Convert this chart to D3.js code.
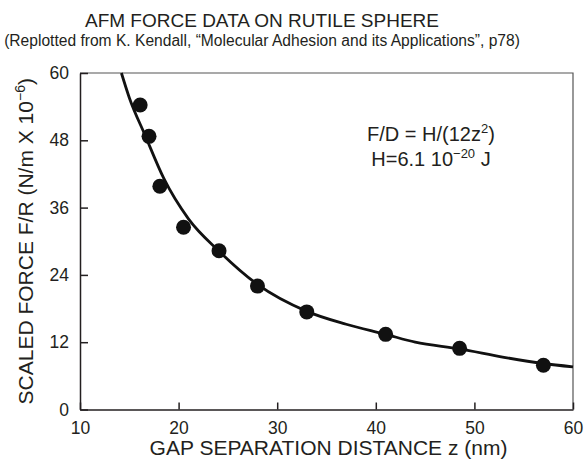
<!DOCTYPE html>
<html>
<head>
<meta charset="utf-8">
<script src="https://cdn.jsdelivr.net/npm/d3@7"></script>
<style>
  body { margin: 0; background: #fff; }
  text { font-family: "Liberation Sans", Arial, sans-serif; fill: #231f20; }
</style>
</head>
<body>
<svg id="chart"></svg>
<script>
// measured points (gap z in nm, F/R in 1e-6 N/m)
const gapPoints = [16.1, 17.0, 18.1, 20.5, 24.1, 28.0, 33.0, 41.0, 48.5, 57.0];
const forcePoints = [54.3, 48.7, 39.8, 32.5, 28.3, 22.0, 17.4, 13.4, 10.9, 7.9];

// fitted curve
const gapCurve = [14.2, 15.0, 16.6, 18.5, 21.0, 24.0, 28.0, 33.0, 37.0, 41.0, 44.0, 48.5, 53.0, 57.0, 60.0];
const forceCurve = [60.0, 55.6, 48.9, 41.2, 34.0, 28.4, 22.3, 17.5, 15.2, 13.4, 12.0, 10.8, 9.3, 8.2, 7.6];

const xTicks = [10, 20, 30, 40, 50, 60];
const yTicks = [0, 12, 24, 36, 48, 60];

const width = 585;
const height = 469;
const margin = { top: 73, right: 12, bottom: 59.5, left: 80 };
const ink = "#231f20";

const svg = d3.select("#chart").attr("width", width).attr("height", height);

const x = d3.scaleLinear().domain([10, 60]).range([margin.left, width - margin.right]);
const y = d3.scaleLinear().domain([0, 60]).range([height - margin.bottom, margin.top]);

// titles
svg.append("text")
  .attr("x", 262).attr("y", 27)
  .attr("text-anchor", "middle")
  .style("font-size", "19px")
  .text("AFM FORCE DATA ON RUTILE SPHERE");

svg.append("text")
  .attr("x", 262).attr("y", 46)
  .attr("text-anchor", "middle")
  .style("font-size", "15.6px")
  .text("(Replotted from K. Kendall, \u201cMolecular Adhesion and its Applications\u201d, p78)");

// frame top / right
svg.append("path")
  .attr("d", `M${x(10)},${y(60)}H${x(60)}V${y(0)}`)
  .attr("fill", "none")
  .attr("stroke", "#555")
  .attr("stroke-width", 1.2);

// x axis
const gx = svg.append("g")
  .attr("transform", `translate(0,${y(0)})`)
  .call(d3.axisBottom(x).tickValues(xTicks).tickSizeInner(-7).tickSizeOuter(0).tickPadding(12));

// y axis
const gy = svg.append("g")
  .attr("transform", `translate(${x(10)},0)`)
  .call(d3.axisLeft(y).tickValues(yTicks).tickSizeInner(-8).tickSizeOuter(0).tickPadding(11));

[gx, gy].forEach((g) => {
  g.selectAll("path, line").attr("stroke", ink).attr("stroke-width", 1.5);
  g.selectAll("text").style("font-size", "17.5px").attr("fill", ink);
});

// axis titles
svg.append("text")
  .attr("x", (x(10) + x(60)) / 2 + 2).attr("y", 455)
  .attr("text-anchor", "middle")
  .style("font-size", "21px")
  .text("GAP SEPARATION DISTANCE z (nm)");

const yt = svg.append("text")
  .attr("transform", `translate(33,${(y(0) + y(60)) / 2}) rotate(-90)`)
  .attr("text-anchor", "middle")
  .style("font-size", "21px");
yt.append("tspan").text("SCALED FORCE F/R (N/m X 10");
yt.append("tspan").attr("dy", -8).style("font-size", "14px").text("\u22126");
yt.append("tspan").attr("dy", 8).text(")");

// equation note
const n1 = svg.append("text")
  .attr("x", 431).attr("y", 141)
  .attr("text-anchor", "middle")
  .style("font-size", "20px");
n1.append("tspan").text("F/D = H/(12z");
n1.append("tspan").attr("dy", -8).style("font-size", "13px").text("2");
n1.append("tspan").attr("dy", 8).text(")");

const n2 = svg.append("text")
  .attr("x", 431).attr("y", 166)
  .attr("text-anchor", "middle")
  .style("font-size", "20px");
n2.append("tspan").text("H=6.1 10");
n2.append("tspan").attr("dy", -8).style("font-size", "13px").text("\u221220");
n2.append("tspan").attr("dy", 8).text(" J");

// fitted curve
const curveData = gapCurve.map((g, i) => ({ x: g, y: forceCurve[i] }));
const line = d3.line()
  .x((d) => x(d.x))
  .y((d) => y(d.y))
  .curve(d3.curveMonotoneX);

svg.append("path")
  .datum(curveData)
  .attr("fill", "none")
  .attr("stroke", "#111")
  .attr("stroke-width", 2.8)
  .attr("d", line);

// data points
const pts = gapPoints.map((g, i) => ({ x: g, y: forcePoints[i] }));
svg.append("g")
  .selectAll("circle")
  .data(pts)
  .join("circle")
  .attr("cx", (d) => x(d.x))
  .attr("cy", (d) => y(d.y))
  .attr("r", 7.5)
  .attr("fill", "#111");
</script>
</body>
</html>
